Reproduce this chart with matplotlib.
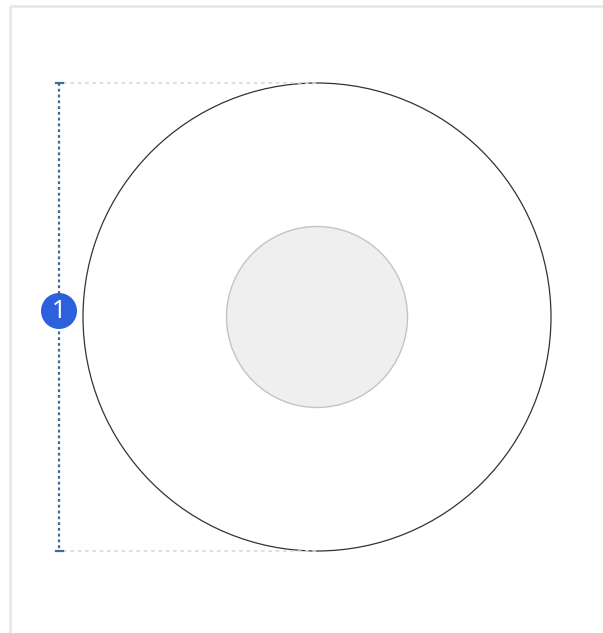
import matplotlib
matplotlib.use("Agg")
import matplotlib.pyplot as plt
from matplotlib.patches import Circle, Rectangle

# chart values (pixel units of the drawing)
center = (317, 317)
outer_radius = 234
inner_radius = 90.5
dim_x = 59
badge_labels = ["1"]

fig = plt.figure(figsize=(6.03, 6.33), dpi=100)
ax = fig.add_axes([0, 0, 1, 1])
ax.set_xlim(0, 603)
ax.set_ylim(633, 0)
ax.set_aspect("equal")
ax.axis("off")

# light frame around the panel
ax.add_patch(Rectangle((9.5, 5.5), 620, 650, fill=False, edgecolor="#e8e8e8", linewidth=2))

cx, cy = center
top = cy - outer_radius
bottom = cy + outer_radius

# outer ring and inner hub
ax.add_patch(Circle(center, outer_radius, facecolor="white", edgecolor="#333333", linewidth=0.9))
ax.add_patch(Circle(center, inner_radius, facecolor="#efefef", edgecolor="#c4c4c4", linewidth=1.0))

# extension lines from the dimension to the circle
for yy in (top, bottom):
    ax.plot([dim_x + 4, cx], [yy, yy], color="#d9d9d9", linewidth=1.2,
            linestyle=(0, (2.2, 2.2)), solid_capstyle="butt")

# dimension line with end caps
ax.plot([dim_x, dim_x], [top, bottom], color="#3e6d98", linewidth=1.6,
        linestyle=(0, (1.3, 1.3)), dash_capstyle="butt")
for yy in (top, bottom):
    ax.plot([dim_x - 3.5, dim_x + 3.5], [yy, yy], color="#3e6d98", linewidth=1.6)

# numbered badge
ax.add_patch(Circle((dim_x, cy - 6), 18, facecolor="#2c60dc", edgecolor="none", zorder=5))
ax.text(dim_x, cy - 5, badge_labels[0], color="white", fontsize=18, fontweight="bold",
        ha="center", va="center", family="Noto Sans", zorder=6)

fig.savefig("out.png", dpi=100)
